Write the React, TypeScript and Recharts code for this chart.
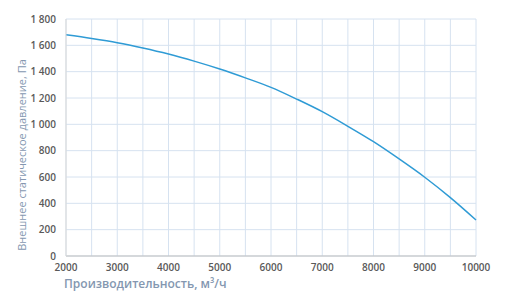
import { LineChart, Line, XAxis, YAxis, CartesianGrid, Label } from "recharts";

const flow = [2000, 2500, 3000, 3500, 4000, 4500, 5000, 5500, 6000, 6500, 7000, 7500, 8000, 8500, 9000, 9500, 10000];
const pressure = [1680, 1652, 1620, 1580, 1534, 1480, 1420, 1353, 1281, 1192, 1096, 985, 868, 737, 598, 443, 273];

const xTicks = [2000, 3000, 4000, 5000, 6000, 7000, 8000, 9000, 10000];
const xGridTicks = [2000, 2500, 3000, 3500, 4000, 4500, 5000, 5500, 6000, 6500, 7000, 7500, 8000, 8500, 9000, 9500, 10000];
const yTicks = [0, 200, 400, 600, 800, 1000, 1200, 1400, 1600, 1800];

const data = flow.map((q, i) => ({ q, p: pressure[i] }));

const font = "'Open Sans', 'Noto Sans', sans-serif";

const fmt = (v: number) => (v >= 1000 ? `${Math.floor(v / 1000)} ${String(v % 1000).padStart(3, "0")}` : `${v}`);

export default function App() {
    return (
        <div style={{ position: "absolute", left: 0, top: 0, width: 505, height: 294, background: "#fff" }}>
            <LineChart width={505} height={294} data={data} margin={{ top: 19, right: 29, bottom: 0, left: 0 }}>
                {/* horizontal lines from the y ticks, vertical ones from a hidden 500-step axis */}
                <CartesianGrid stroke="#d6e2f0" vertical={false} />
                <CartesianGrid stroke="#d6e2f0" horizontal={false} xAxisId="grid" />
                <XAxis
                    xAxisId="grid"
                    dataKey="q"
                    type="number"
                    domain={[2000, 10000]}
                    ticks={xGridTicks}
                    interval={0}
                    hide
                />
                <XAxis
                    dataKey="q"
                    type="number"
                    domain={[2000, 10000]}
                    ticks={xTicks}
                    interval={0}
                    tickLine={false}
                    tickSize={0}
                    tickMargin={8}
                    height={38}
                    stroke="#bfbfbf"
                    tick={{ fill: "#595959", fontSize: 10, fontWeight: 600, fontFamily: font }}
                >
                    <Label
                        content={() => (
                            <text x={64} y={288} fill="#8497b0" fontSize={12} fontWeight={600} fontFamily={font}>
                                Производительность, м³/ч
                            </text>
                        )}
                    />
                </XAxis>
                <YAxis
                    type="number"
                    domain={[0, 1800]}
                    ticks={yTicks}
                    interval={0}
                    tickFormatter={fmt}
                    tickLine={false}
                    tickSize={0}
                    tickMargin={10}
                    width={66}
                    stroke="#d9d9d9"
                    tick={{ fill: "#595959", fontSize: 10, fontWeight: 600, fontFamily: font }}
                >
                    <Label
                        content={() => (
                            <text
                                x={0}
                                y={0}
                                transform="translate(26 155) rotate(-90)"
                                textAnchor="middle"
                                fill="#8497b0"
                                fontSize={11}
                                fontFamily={font}
                            >
                                Внешнее статическое давление, Па
                            </text>
                        )}
                    />
                </YAxis>
                <Line
                    dataKey="p"
                    type="monotone"
                    stroke="#2f9bd5"
                    strokeWidth={1.5}
                    dot={false}
                    isAnimationActive={false}
                />
            </LineChart>
        </div>
    );
}
